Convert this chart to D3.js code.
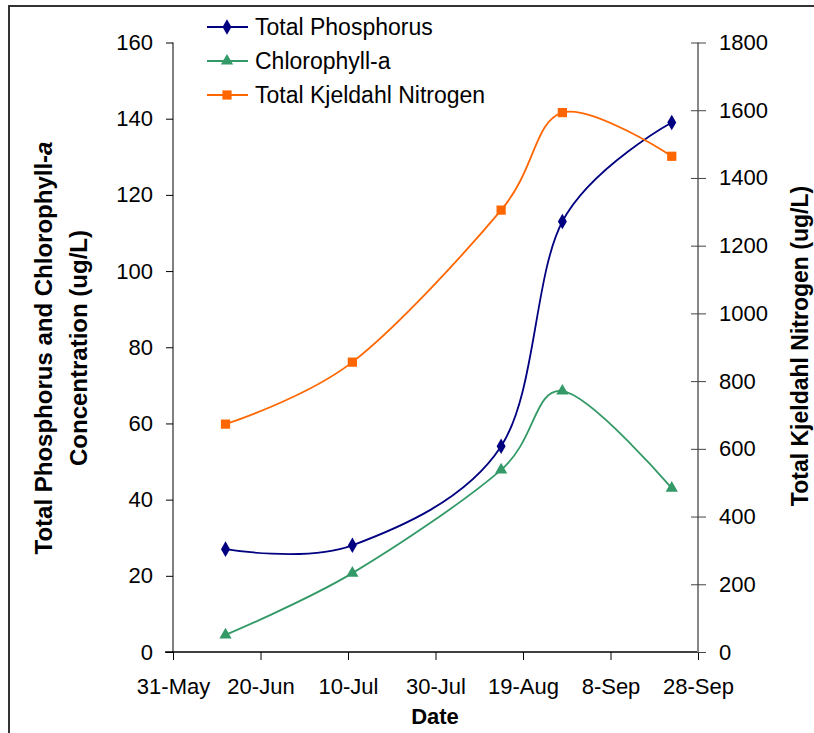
<!DOCTYPE html>
<html>
<head>
<meta charset="utf-8">
<script src="https://cdn.jsdelivr.net/npm/d3@7"></script>
<style>
  body { margin: 0; background: #fff; }
  svg { font-family: "Liberation Sans", Arial, sans-serif; }
</style>
</head>
<body>
<svg id="chart" width="814" height="733"></svg>
<script>
// sampling dates and measured values (ug/L)
const sampleDates = ["12-Jun", "11-Jul", "14-Aug", "28-Aug", "22-Sep"];
const totalPhosphorus = [27, 28, 54, 113, 139];
const chlorophyllA = [4.5, 20.7, 47.8, 68.5, 43];
const kjeldahlNitrogen = [673, 856, 1305, 1593, 1464];
const xTickLabels = ["31-May", "20-Jun", "10-Jul", "30-Jul", "19-Aug", "8-Sep", "28-Sep"];
const leftTicks = [0, 20, 40, 60, 80, 100, 120, 140, 160];
const rightTicks = [0, 200, 400, 600, 800, 1000, 1200, 1400, 1600, 1800];

const parse = d3.timeParse("%d-%b-%Y");
const toDate = (s) => parse(s + "-2006");

const svg = d3.select("#chart");
const plotL = 173, plotR = 698, plotT = 42.5, plotB = 652;

// outer chart frame
svg.append("rect")
  .attr("x", 9).attr("y", 6).attr("width", 830).attr("height", 760)
  .attr("fill", "none").attr("stroke", "#333").attr("stroke-width", 2);

const x = d3.scaleTime()
  .domain([toDate("31-May"), toDate("28-Sep")])
  .range([plotL, plotR]);
const yL = d3.scaleLinear().domain([0, 160]).range([plotB, plotT]);
const yR = d3.scaleLinear().domain([0, 1800]).range([plotB, plotT]);

// x axis
const xAxis = d3.axisBottom(x)
  .tickValues(xTickLabels.map(toDate))
  .tickFormat(d3.timeFormat("%-d-%b"))
  .tickSize(8).tickPadding(18);
svg.append("g")
  .attr("transform", `translate(0,${plotB})`)
  .call(xAxis)
  .call((g) => g.select(".domain").attr("stroke", "#000").attr("stroke-width", 1.5).attr("d", `M${plotL - 8},0H${plotR}`))
  .call((g) => g.selectAll(".tick line").attr("stroke", "#000"))
  .call((g) => g.selectAll("text").attr("font-size", 22).attr("fill", "#000"));

// left axis
svg.append("g")
  .attr("transform", `translate(${plotL},0)`)
  .call(d3.axisLeft(yL).tickValues(leftTicks).tickSize(7).tickPadding(13))
  .call((g) => g.select(".domain").attr("stroke", "#000").attr("d", `M0,${plotT}V${plotB}`))
  .call((g) => g.selectAll(".tick line").attr("stroke", "#000"))
  .call((g) => g.selectAll("text").attr("font-size", 22).attr("fill", "#000"));

// right axis (ticks cross the line)
svg.append("g")
  .attr("transform", `translate(${plotR},0)`)
  .call(d3.axisRight(yR).tickValues(rightTicks).tickFormat(d3.format("d")).tickSize(8).tickPadding(13))
  .call((g) => g.select(".domain").attr("stroke", "#888").attr("stroke-width", 2).attr("d", `M0,${plotT}V${plotB}`))
  .call((g) => g.selectAll(".tick line").attr("stroke", "#444").attr("x1", -7))
  .call((g) => g.selectAll("text").attr("font-size", 22).attr("fill", "#000"));

// axis titles
svg.append("text")
  .attr("transform", "translate(52,348) rotate(-90)")
  .attr("text-anchor", "middle").attr("font-size", 24).attr("font-weight", "bold")
  .text("Total Phosphorus and Chlorophyll-")
  .append("tspan").attr("font-style", "italic").text("a");
svg.append("text")
  .attr("transform", "translate(87,348) rotate(-90)")
  .attr("text-anchor", "middle").attr("font-size", 24).attr("font-weight", "bold")
  .text("Concentration (ug/L)");
svg.append("text")
  .attr("transform", "translate(808,346) rotate(-90)")
  .attr("text-anchor", "middle").attr("font-size", 23).attr("font-weight", "bold")
  .text("Total Kjeldahl Nitrogen (ug/L)");
svg.append("text")
  .attr("x", 435).attr("y", 724)
  .attr("text-anchor", "middle").attr("font-size", 22).attr("font-weight", "bold")
  .text("Date");

const series = [
  { name: "Total Phosphorus", values: totalPhosphorus, y: yL, color: "#000080", symbol: d3.symbolDiamond, size: 70 },
  { name: "Chlorophyll-a", values: chlorophyllA, y: yL, color: "#339966", symbol: d3.symbolTriangle, size: 65 },
  { name: "Total Kjeldahl Nitrogen", values: kjeldahlNitrogen, y: yR, color: "#FF6600", symbol: d3.symbolSquare, size: 85 },
];

series.forEach((s) => {
  const pts = sampleDates.map((d, i) => [x(toDate(d)), s.y(s.values[i])]);
  const line = d3.line().curve(d3.curveCardinal.tension(0));
  svg.append("path")
    .attr("d", line(pts))
    .attr("fill", "none").attr("stroke", s.color).attr("stroke-width", 1.8);
  svg.append("g").selectAll("path")
    .data(pts)
    .join("path")
    .attr("transform", (p) => `translate(${p[0]},${p[1]})`)
    .attr("d", d3.symbol(s.symbol, s.size))
    .attr("fill", s.color);
});

// legend
const legend = svg.append("g");
series.forEach((s, i) => {
  const ly = 27 + i * 34;
  legend.append("line")
    .attr("x1", 207).attr("x2", 248).attr("y1", ly).attr("y2", ly)
    .attr("stroke", s.color).attr("stroke-width", 1.8);
  legend.append("path")
    .attr("transform", `translate(227,${ly})`)
    .attr("d", d3.symbol(s.symbol, s.size))
    .attr("fill", s.color);
  legend.append("text")
    .attr("x", 255).attr("y", ly + 8)
    .attr("font-size", 23).attr("fill", "#000")
    .text(s.name);
});
</script>
</body>
</html>
